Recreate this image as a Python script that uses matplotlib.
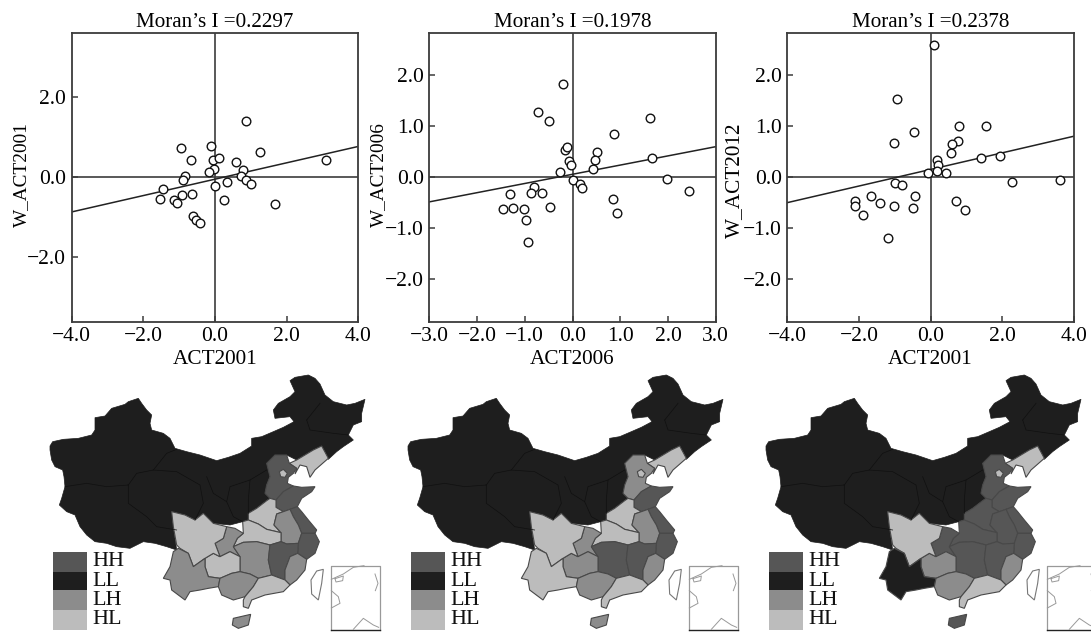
import matplotlib
matplotlib.use("Agg")
import matplotlib.pyplot as plt

plt.rcParams["font.family"] = ["Liberation Serif", "DejaVu Serif"]

# -------------------------
# SCATTER DATA
# -------------------------
x_2001 = [0.87, 1.27, 3.09, -0.94, -0.11, -0.67, -0.06, 0.11, -0.03, -0.16, 0.60, 0.77, 0.74, 0.87, 1.00,
          0.33, 0.00, 0.24, 1.67, -0.85, -0.88, -1.46, -1.54, -1.14, -1.07, -0.91, -0.65, -0.62, -0.52, -0.41]
y_2001 = [1.42, 0.62, 0.44, 0.74, 0.78, 0.42, 0.44, 0.47, 0.21, 0.13, 0.38, 0.19, 0.02, -0.07, -0.18,
          -0.12, -0.22, -0.56, -0.68, 0.04, -0.08, -0.30, -0.54, -0.56, -0.65, -0.45, -0.41, -0.96, -1.06, -1.14]

x_2006 = [-0.19, -0.73, -0.50, 1.62, 0.86, -0.16, -0.12, 0.52, -0.08, -0.04, 0.48, 0.43, 1.66, -0.26, 0.01, 0.16,
          0.20, 1.98, 2.44, 0.85, 0.94, -0.81, -0.87, -0.64, -1.32, -0.48, -1.46, -1.24, -1.01, -0.98, -0.94]
y_2006 = [1.83, 1.28, 1.11, 1.17, 0.85, 0.54, 0.59, 0.49, 0.31, 0.24, 0.33, 0.17, 0.37, 0.10, -0.05, -0.13,
          -0.22, -0.03, -0.27, -0.43, -0.71, -0.20, -0.31, -0.31, -0.34, -0.59, -0.63, -0.60, -0.63, -0.84, -1.28]

x_2012 = [0.09, -0.93, -0.46, -1.01, 0.80, 1.54, 0.76, 0.61, 0.56, 0.18, 0.20, 0.19, -0.06, 0.42, 1.42, 1.94,
          2.28, 3.62, 0.72, 0.97, -1.00, -0.81, -0.44, -0.50, -1.01, -1.40, -1.66, -2.12, -2.10, -1.88, -1.18]
y_2012 = [2.59, 1.53, 0.89, 0.67, 1.00, 1.00, 0.72, 0.66, 0.47, 0.33, 0.23, 0.12, 0.09, 0.08, 0.37, 0.42,
          -0.09, -0.05, -0.47, -0.64, -0.11, -0.15, -0.37, -0.60, -0.56, -0.51, -0.37, -0.47, -0.56, -0.75, -1.19]

panels = [
    {"title": "Moran\u2019s I =0.2297", "xlabel": "ACT2001", "ylabel": "W_ACT2001", "x": x_2001, "y": y_2001,
     "xlim": 4.0, "ylim": 3.62, "fit": [-0.87, 0.77], "left": 71.7, "ylab_x": 30, "ylab_y": 0.508, "ylab_fs": 13.9,
     "xticks": [-4, -2, 0, 2, 4], "yticks": [-2, 0, 2]},
    {"title": "Moran\u2019s I =0.1978", "xlabel": "ACT2006", "ylabel": "W_ACT2006", "x": x_2006, "y": y_2006,
     "xlim": 3.0, "ylim": 2.84, "fit": [-0.485, 0.60], "left": 429.3, "ylab_x": 387, "ylab_y": 0.508, "ylab_fs": 13.9,
     "xticks": [-3, -2, -1, 0, 1, 2, 3], "yticks": [-2, -1, 0, 1, 2]},
    {"title": "Moran\u2019s I =0.2378", "xlabel": "ACT2001", "ylabel": "W_ACT2012", "x": x_2012, "y": y_2012,
     "xlim": 4.0, "ylim": 2.84, "fit": [-0.50, 0.805], "left": 787.3, "ylab_x": 744, "ylab_y": 0.49, "ylab_fs": 15.3,
     "xticks": [-4, -2, 0, 2, 4], "yticks": [-2, -1, 0, 1, 2]},
]

# -------------------------
# MAP DATA (outline of each region, in 3x pixels of the first map)
# -------------------------
base_outline = [(150, 228), (158, 215), (190, 208), (235, 205), (275, 195), (285, 180), (285, 143), (315, 138),
                (335, 115), (375, 103), (385, 95), (415, 85), (425, 100), (440, 120), (455, 135), (450, 160),
                (455, 180), (490, 190), (510, 205), (525, 235), (560, 245), (600, 255), (650, 272), (685, 262),
                (720, 250), (755, 228), (755, 205), (785, 200), (820, 185), (850, 172), (882, 155), (870, 140),
                (825, 145), (820, 120), (835, 100), (870, 80), (885, 65), (870, 32), (885, 22), (925, 15), (945, 25),
                (960, 42), (975, 75), (1000, 95), (1040, 105), (1065, 100), (1095, 88), (1085, 130), (1085, 155),
                (1060, 165), (1045, 195), (1060, 210), (1030, 230), (1010, 245), (985, 268), (965, 228), (940, 240),
                (890, 270), (860, 255), (825, 255), (800, 280), (810, 320), (800, 345), (795, 370), (810, 385),
                (800, 392), (770, 415), (745, 430), (745, 450), (728, 455), (690, 465), (640, 460), (610, 430),
                (585, 450), (555, 435), (515, 425), (520, 470), (530, 540), (500, 530), (465, 520), (430, 515),
                (390, 535), (350, 530), (320, 520), (285, 515), (260, 495), (240, 470), (225, 435), (200, 425),
                (178, 405), (185, 385), (195, 350), (192, 320), (188, 300), (165, 290), (155, 270), (150, 240)]

regions = {
    "Liaoning": [(868, 280), (890, 270), (940, 240), (965, 228), (985, 265), (945, 300), (930, 322), (920, 290),
                 (900, 285), (885, 312), (890, 295)],
    "Hebei": [(800, 280), (825, 255), (860, 255), (868, 280), (890, 295), (880, 310), (865, 322), (862, 340),
              (880, 348), (850, 365), (828, 390), (810, 385), (795, 370), (800, 345), (810, 320)],
    "Beijing": [(838, 305), (850, 298), (862, 310), (855, 322), (842, 320)],
    "Shandong": [(828, 390), (850, 365), (880, 348), (905, 352), (945, 350), (935, 365), (905, 385), (892, 410),
                 (870, 418), (850, 425), (828, 412)],
    "Henan": [(745, 430), (770, 415), (800, 392), (810, 385), (828, 390), (828, 412), (850, 425), (830, 432),
              (822, 465), (843, 488), (800, 478), (775, 462), (745, 450)],
    "Jiangsu": [(870, 418), (892, 410), (905, 425), (925, 450), (950, 480), (945, 490), (905, 490), (895, 465),
                (880, 440)],
    "Anhui": [(830, 432), (850, 425), (870, 418), (880, 440), (895, 465), (905, 490), (895, 520), (860, 522),
              (843, 515), (843, 488), (822, 465)],
    "Zhejiang": [(905, 490), (945, 490), (958, 515), (945, 550), (920, 568), (893, 550), (895, 520)],
    "Hubei": [(728, 455), (745, 450), (775, 462), (800, 478), (843, 488), (843, 515), (810, 525), (770, 515),
              (730, 517), (700, 530), (712, 505), (730, 490)],
    "Chongqing": [(680, 470), (705, 475), (730, 490), (712, 505), (700, 530), (720, 560), (690, 545), (660, 560),
                  (645, 520), (670, 505)],
    "Hunan": [(700, 530), (730, 517), (770, 515), (810, 525), (805, 570), (815, 615), (775, 625), (750, 612),
              (720, 605), (720, 560)],
    "Jiangxi": [(810, 525), (843, 515), (860, 522), (895, 520), (893, 550), (870, 560), (855, 600), (855, 630),
                (815, 615), (805, 570)],
    "Fujian": [(893, 550), (920, 568), (915, 600), (890, 630), (870, 645), (855, 630), (855, 600), (870, 560)],
    "Guizhou": [(615, 565), (640, 550), (660, 560), (690, 545), (720, 560), (720, 605), (695, 610), (660, 625),
                (625, 620), (615, 590)],
    "Sichuan": [(515, 425), (555, 435), (585, 450), (610, 430), (640, 460), (680, 470), (670, 505), (645, 520),
                (660, 560), (640, 550), (615, 565), (580, 590), (565, 550), (540, 535), (530, 525), (520, 470)],
    "Yunnan": [(520, 545), (535, 535), (565, 550), (580, 590), (615, 565), (615, 590), (625, 620), (660, 625),
               (655, 650), (625, 655), (600, 660), (570, 665), (555, 690), (515, 660), (510, 630), (490, 625),
               (510, 590)],
    "Guangxi": [(660, 625), (695, 610), (720, 605), (750, 612), (775, 625), (760, 650), (735, 680), (700, 690),
                (665, 675), (655, 650)],
    "Guangdong": [(775, 625), (815, 615), (855, 630), (870, 645), (850, 665), (795, 675), (755, 690), (745, 715),
                  (730, 710), (730, 690), (735, 680), (760, 650)],
    "Hainan": [(700, 745), (752, 733), (745, 765), (715, 775), (697, 765)],
}

map_classes = [
    {"Liaoning": "HL", "Hebei": "HH", "Beijing": "HL", "Shandong": "HH", "Henan": "HL", "Jiangsu": "HH",
     "Anhui": "LH", "Zhejiang": "HH", "Hubei": "HL", "Chongqing": "LH", "Hunan": "LH", "Jiangxi": "HH",
     "Fujian": "LH", "Guizhou": "HL", "Sichuan": "HL", "Yunnan": "LH", "Guangxi": "LH", "Guangdong": "HL",
     "Hainan": "LH"},
    {"Liaoning": "HL", "Hebei": "LH", "Beijing": "HL", "Shandong": "HH", "Henan": "HL", "Jiangsu": "HH",
     "Anhui": "LH", "Zhejiang": "HH", "Hubei": "HL", "Chongqing": "LH", "Hunan": "HH", "Jiangxi": "HH",
     "Fujian": "LH", "Guizhou": "LH", "Sichuan": "HL", "Yunnan": "HL", "Guangxi": "LH", "Guangdong": "HL",
     "Hainan": "LH"},
    {"Liaoning": "HL", "Hebei": "HH", "Beijing": "HL", "Shandong": "HH", "Henan": "HH", "Jiangsu": "HH",
     "Anhui": "HH", "Zhejiang": "HH", "Hubei": "HH", "Chongqing": "HH", "Hunan": "HH", "Jiangxi": "HH",
     "Fujian": "LH", "Guizhou": "LH", "Sichuan": "HL", "Yunnan": "LL", "Guangxi": "LH", "Guangdong": "HL",
     "Hainan": "HH"},
]

inner_borders = [
    [(195, 350), (260, 340), (320, 350), (385, 345)],
    [(385, 345), (410, 310), (460, 300), (500, 250), (530, 238)],
    [(385, 345), (385, 400), (440, 440), (470, 470), (530, 480)],
    [(460, 300), (530, 305), (600, 345), (610, 400), (585, 450)],
    [(620, 320), (640, 370), (680, 395), (700, 440), (728, 455)],
    [(750, 330), (745, 390), (745, 430)],
    [(680, 395), (690, 350), (750, 330), (800, 300)],
    [(920, 150), (960, 100)],
    [(920, 150), (930, 180), (1000, 190), (1045, 195)],
]

taiwan = [(950, 603), (970, 598), (965, 640), (955, 690), (935, 672), (933, 630)]
inset_coasts = [
    [(994, 628), (1030, 612), (1060, 592), (1092, 587)],
    [(1005, 626), (1030, 618), (1028, 632), (1008, 636), (1005, 626)],
    [(994, 662), (1015, 680), (1020, 700), (994, 714)],
    [(1125, 612), (1134, 640), (1126, 662)],
    [(1060, 778), (1090, 745), (1120, 765), (1136, 772)],
]

class_colors = {"HH": "#565656", "LL": "#1e1e1e", "LH": "#8c8c8c", "HL": "#bcbcbc"}
legend_order = ["HH", "LL", "LH", "HL"]
legend_edges = [545, 605, 661, 720, 780]
map_shifts = [0, 358, 716]

# -------------------------
# FIGURE
# -------------------------
W, H = 1091, 633
fig = plt.figure(figsize=(W / 100, H / 100), dpi=100)
line_col = "#3c3c3c"

# -------------------------
# SCATTER PANELS
# -------------------------
top, bottom, width = 32.7, 321.7, 286.5

for p in panels:
    ax = fig.add_axes([p["left"] / W, 1 - bottom / H, width / W, (bottom - top) / H])
    ax.set_xlim(-p["xlim"], p["xlim"])
    ax.set_ylim(-p["ylim"], p["ylim"])
    ax.axhline(0, color=line_col, lw=1.2, zorder=1)
    ax.axvline(0, color=line_col, lw=1.2, zorder=1)
    ax.plot([-p["xlim"], p["xlim"]], p["fit"], color="#222222", lw=1.1, zorder=2)
    ax.plot(p["x"], p["y"], "o", ms=6.2, mfc="white", mec="#111111", mew=1.0, ls="none", zorder=3)

    ax.set_xticks(p["xticks"])
    ax.set_yticks(p["yticks"])
    ax.set_xticklabels([f"{v:.1f}".replace("-", "\u2212") for v in p["xticks"]])
    ax.set_yticklabels([f"{v:.1f}".replace("-", "\u2212") for v in p["yticks"]])
    ax.tick_params(direction="in", length=4.5, width=1.1, color=line_col, labelsize=15.5, pad=4)
    for s in ax.spines.values():
        s.set_color(line_col)
        s.set_linewidth(1.3)

    ax.set_title(p["title"], fontsize=15.2, pad=4)
    ax.set_xlabel(p["xlabel"], fontsize=15.3, labelpad=3)
    ax.set_ylabel(p["ylabel"], fontsize=p["ylab_fs"])
    ax.yaxis.set_label_coords((p["ylab_x"] - p["left"]) / width, p["ylab_y"])

# -------------------------
# MAPS
# -------------------------
mp = fig.add_axes([0, 0, 1, 1], zorder=-1)
mp.set_xlim(0, W)
mp.set_ylim(H, 0)
mp.axis("off")


def to_px(points, shift):
    return [p[0] / 3 + shift for p in points], [370 + p[1] / 3 for p in points]


for shift, classes in zip(map_shifts, map_classes):
    xs, ys = to_px(base_outline, shift)
    mp.fill(xs, ys, color=class_colors["LL"], lw=0.5)
    for line in inner_borders:
        xs, ys = to_px(line, shift)
        mp.plot(xs, ys, color="#101010", lw=0.5)
    for name, outline in regions.items():
        xs, ys = to_px(outline, shift)
        mp.fill(xs, ys, facecolor=class_colors[classes[name]], edgecolor="#484848", lw=0.8)

    xs, ys = to_px(taiwan, shift)
    mp.fill(xs, ys, facecolor="white", edgecolor="#777777", lw=0.8)

    # legend boxes
    for i, key in enumerate(legend_order):
        xs, ys = to_px([(160, legend_edges[i]), (262, legend_edges[i]),
                        (262, legend_edges[i + 1]), (160, legend_edges[i + 1])], shift)
        mp.fill(xs, ys, color=class_colors[key], lw=0)
        mp.text(shift + 92.5, 370 + (legend_edges[i] + legend_edges[i + 1]) / 6, key,
                fontsize=16, va="center", ha="left", color="#111111")

    # south china sea inset
    xs, ys = to_px([(994, 780), (994, 587), (1140, 587), (1140, 780)], shift)
    mp.plot(xs, ys, color="#999999", lw=0.9)
    xs, ys = to_px([(994, 780), (1140, 780)], shift)
    mp.plot(xs, ys, color="#222222", lw=1.0)
    for line in inset_coasts:
        xs, ys = to_px(line, shift)
        mp.plot(xs, ys, color="#999999", lw=0.7)

fig.savefig("out.png", dpi=100)
